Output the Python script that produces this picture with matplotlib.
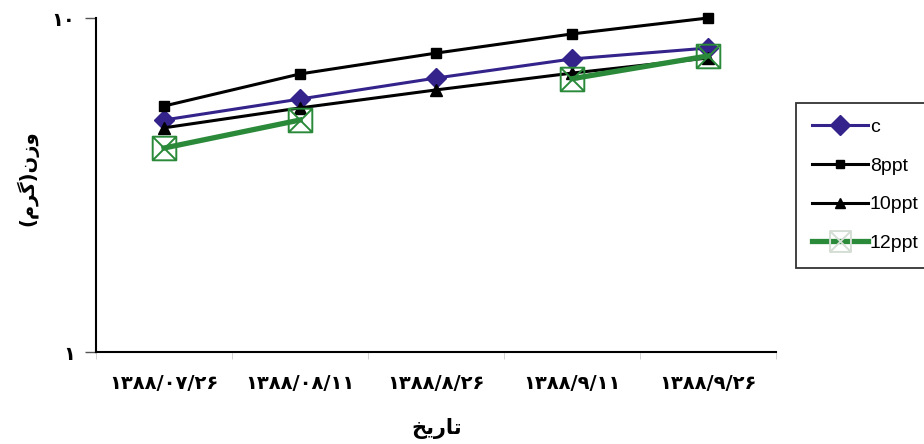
import numpy as np
import matplotlib
matplotlib.use("Agg")
import matplotlib.pyplot as plt
from matplotlib.path import Path

# ─── Dati ─────────────────────────────────────────────────────────────────────
dates = ["۱۳۸۸/۰۷/۲۶", "۱۳۸۸/۰۸/۱۱", "۱۳۸۸/۸/۲۶", "۱۳۸۸/۹/۱۱", "۱۳۸۸/۹/۲۶"]
c_vals     = [4.95, 5.72, 6.61, 7.54, 8.13]
ppt8_vals  = [5.45, 6.80, 7.85, 8.96, 10.0]
ppt10_vals = [4.69, 5.38, 6.09, 6.84, 7.59]
ppt12_vals = [4.08, 4.95, np.nan, 6.58, 7.70]

# testi persiani già in forma di presentazione (matplotlib non fa shaping)
xlabel_txt = "\uFEA6\uFEF3\uFEAD\uFE8E\uFE97"                      # تاریخ
ylabel_txt = "(\uFEE1\uFEAE\uFB94)\uFEE5\uFEAF\uFEED"              # وزن(گرم)
ytick_txt = ["۱", "۱۰"]

# marker quadrato con croce
box_x = Path([(-1, -1), (1, -1), (1, 1), (-1, 1), (-1, -1), (-1, -1), (1, 1), (-1, 1), (1, -1)],
             [Path.MOVETO, Path.LINETO, Path.LINETO, Path.LINETO, Path.CLOSEPOLY,
              Path.MOVETO, Path.LINETO, Path.MOVETO, Path.LINETO])

plt.rcParams["font.family"] = ["DejaVu Sans"]

fig = plt.figure(figsize=(9.24, 4.44), dpi=100)
ax = fig.add_axes([96 / 924, 92 / 444, 680 / 924, 334 / 444])

x = np.arange(len(dates))
ax.plot(x, c_vals, color="#33238a", lw=2.2, marker="D", ms=10,
        mfc="#33238a", mec="#33238a", label="c", zorder=3, clip_on=False)
ax.plot(x, ppt8_vals, color="black", lw=2.2, marker="s", ms=7, label="8ppt",
        zorder=3, clip_on=False)
ax.plot(x, ppt10_vals, color="black", lw=2.2, marker="^", ms=8, label="10ppt",
        zorder=3, clip_on=False)
ax.plot(x, ppt12_vals, color="#2a8a3a", lw=3.8, marker=box_x, ms=17,
        mfc="none", mec="#2a8a3a", mew=1.4, label="12ppt", zorder=4, clip_on=False)

ax.set_yscale("log")
ax.set_ylim(1, 10)
ax.set_xlim(-0.5, len(dates) - 0.5)
ax.set_yticks([1, 10])
ax.set_yticklabels(ytick_txt, fontsize=14, fontweight="bold")
ax.yaxis.set_minor_locator(matplotlib.ticker.NullLocator())
ax.tick_params(axis="y", direction="out", length=8, width=1, color="#555555", pad=7)

ax.set_xticks(x)
ax.set_xticklabels(dates, fontsize=14, fontweight="bold")
ax.tick_params(axis="x", length=0, pad=16)
ax.set_xticks(np.arange(-0.5, len(dates)), minor=True)
ax.tick_params(axis="x", which="minor", direction="out", length=5, color="#cccccc")

for s in ["top", "right"]:
    ax.spines[s].set_visible(False)
for s in ["left", "bottom"]:
    ax.spines[s].set_linewidth(1.5)

fig.text(437 / 924, 1 - 428 / 444, xlabel_txt, ha="center", va="center",
         fontsize=15, fontweight="bold")
fig.text(27 / 924, 1 - 178 / 444, ylabel_txt, ha="center", va="center",
         rotation=90, fontsize=14, fontweight="bold")

leg = ax.legend(loc="upper left", bbox_to_anchor=(796 / 924, 1 - 103 / 444),
                bbox_transform=fig.transFigure, frameon=True, fancybox=False,
                edgecolor="black", prop={"family": "Liberation Sans", "size": 14},
                handlelength=2.9, handletextpad=0.1, labelspacing=1.08,
                borderpad=0.8, borderaxespad=0)
leg.get_frame().set_linewidth(1.3)
hs = leg.legend_handles
hs[0].set_markersize(10)
hs[1].set_markersize(6)
hs[2].set_markersize(7)
hs[3].set_markersize(15)
hs[3].set_markeredgecolor("#d4ddd4")

plt.savefig("out.png", dpi=100)
plt.close()
